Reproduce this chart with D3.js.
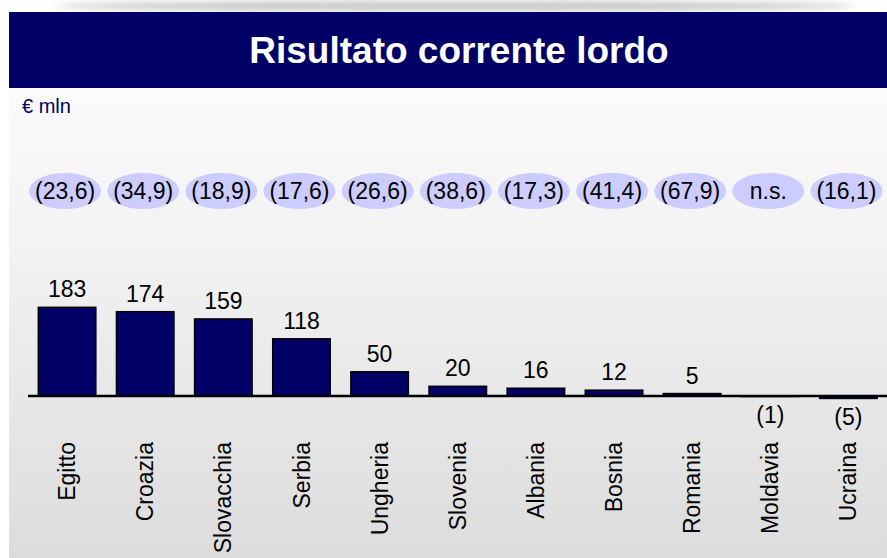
<!DOCTYPE html>
<html>
<head>
<meta charset="utf-8">
<script src="https://cdnjs.cloudflare.com/ajax/libs/d3/7.8.5/d3.min.js"></script>
<style>
  html, body { margin: 0; padding: 0; background: #ffffff; }
  svg { display: block; font-family: "Liberation Sans", Arial, Helvetica, sans-serif; }
</style>
</head>
<body>
<svg id="chart" width="887" height="558"></svg>
<script>
// Paesi (categorie)
const paesi = ["Egitto", "Croazia", "Slovacchia", "Serbia", "Ungheria", "Slovenia",
               "Albania", "Bosnia", "Romania", "Moldavia", "Ucraina"];
// Risultato corrente lordo, € mln
const risultato = [183, 174, 159, 118, 50, 20, 16, 12, 5, -1, -5];
// Variazioni indicate nei riquadri ovali
const variazioni = ["(23,6)", "(34,9)", "(18,9)", "(17,6)", "(26,6)", "(38,6)",
                    "(17,3)", "(41,4)", "(67,9)", "n.s.", "(16,1)"];

const W = 887, H = 558;
const svg = d3.select("#chart");
const defs = svg.append("defs");

// background panel gradient
const bg = defs.append("linearGradient").attr("id", "bgGrad")
  .attr("x1", 0).attr("y1", 0).attr("x2", 0).attr("y2", 1);
bg.append("stop").attr("offset", "0%").attr("stop-color", "#fbfbfb");
bg.append("stop").attr("offset", "35%").attr("stop-color", "#f2f2f2");
bg.append("stop").attr("offset", "100%").attr("stop-color", "#dcdcdc");

// soft shadow above the title bar
const blur = defs.append("filter").attr("id", "soft")
  .attr("x", "-10%").attr("y", "-200%").attr("width", "120%").attr("height", "500%");
blur.append("feGaussianBlur").attr("stdDeviation", "4 3");

svg.append("ellipse")
  .attr("cx", 455).attr("cy", 6).attr("rx", 400).attr("ry", 5)
  .attr("fill", "#c8c8c8").attr("filter", "url(#soft)");

svg.append("rect")
  .attr("x", 9).attr("y", 88).attr("width", W - 9).attr("height", H - 88)
  .attr("fill", "url(#bgGrad)");

// title bar
svg.append("rect")
  .attr("x", 9).attr("y", 12).attr("width", W - 9).attr("height", 76)
  .attr("fill", "#000066");
svg.append("text")
  .attr("x", 459).attr("y", 63)
  .attr("text-anchor", "middle")
  .attr("fill", "#ffffff")
  .attr("font-weight", "bold")
  .attr("font-size", 37)
  .text("Risultato corrente lordo");

svg.append("text")
  .attr("x", 22).attr("y", 113)
  .attr("fill", "#000066")
  .attr("font-size", 20)
  .text("€ mln");

// scales
const x = d3.scaleBand()
  .domain(paesi)
  .range([28, 887.5])
  .paddingInner(0.264)
  .paddingOuter(0.132);

const y = d3.scaleLinear()
  .domain([0, 200])
  .range([396, 299.1]);

const data = paesi.map((p, i) => ({ paese: p, valore: risultato[i], variazione: variazioni[i] }));

// ovals with the variations
const ovali = svg.append("g");
ovali.selectAll("ellipse")
  .data(data)
  .join("ellipse")
  .attr("cx", d => x(d.paese) + x.bandwidth() / 2 - 2)
  .attr("cy", 191)
  .attr("rx", 36)
  .attr("ry", 18)
  .attr("fill", "#ccccff");
ovali.selectAll("text")
  .data(data)
  .join("text")
  .attr("x", d => x(d.paese) + x.bandwidth() / 2 - 2)
  .attr("y", 191)
  .attr("dy", "0.35em")
  .attr("text-anchor", "middle")
  .attr("font-size", 23)
  .attr("fill", "#000000")
  .text(d => d.variazione);

// bars
svg.append("g")
  .selectAll("rect")
  .data(data)
  .join("rect")
  .attr("x", d => x(d.paese))
  .attr("y", d => y(Math.max(0, d.valore)))
  .attr("width", x.bandwidth())
  .attr("height", d => Math.abs(y(d.valore) - y(0)))
  .attr("fill", "#000066")
  .attr("stroke", "#000000")
  .attr("stroke-width", 1.5);

// baseline
svg.append("line")
  .attr("x1", 28).attr("x2", 887)
  .attr("y1", y(0)).attr("y2", y(0))
  .attr("stroke", "#000000")
  .attr("stroke-width", 2.5);

// value labels
const fmt = v => v < 0 ? `(${Math.abs(v)})` : `${v}`;
svg.append("g")
  .selectAll("text")
  .data(data)
  .join("text")
  .attr("x", d => x(d.paese) + x.bandwidth() / 2)
  .attr("y", d => d.valore >= 0 ? y(d.valore) - 10 : y(d.valore) + 27)
  .attr("text-anchor", "middle")
  .attr("font-size", 23)
  .attr("fill", "#000000")
  .text(d => fmt(d.valore));

// category labels, rotated
svg.append("g")
  .selectAll("text")
  .data(data)
  .join("text")
  .attr("transform", d => `translate(${x(d.paese) + x.bandwidth() / 2},442) rotate(-90)`)
  .attr("dy", "0.35em")
  .attr("text-anchor", "end")
  .attr("font-size", 23)
  .attr("fill", "#000000")
  .text(d => d.paese);
</script>
</body>
</html>
